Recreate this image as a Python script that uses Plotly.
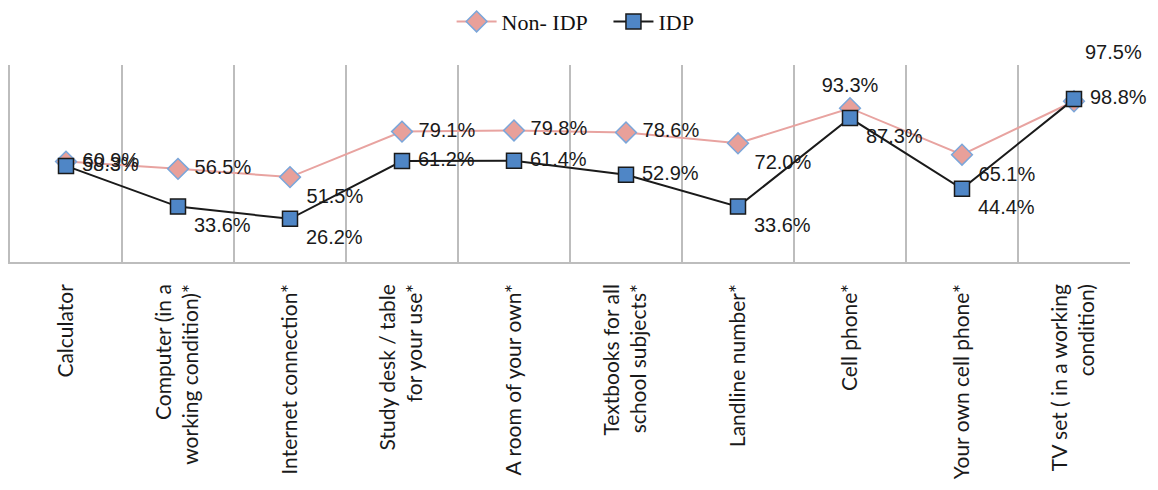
import plotly.graph_objects as go

# categories (x axis) and shares in percent
items = [
    "Calculator",
    "Computer (in a<br>working condition)*",
    "Internet connection*",
    "Study desk / table<br>for your use*",
    "A room of your own*",
    "Textbooks for all<br>school subjects*",
    "Landline number*",
    "Cell phone*",
    "Your own cell phone*",
    "TV set ( in a working<br>condition)",
]
non_idp = [60.9, 56.5, 51.5, 79.1, 79.8, 78.6, 72.0, 93.3, 65.1, 97.5]
idp = [58.3, 33.6, 26.2, 61.2, 61.4, 52.9, 33.6, 87.3, 44.4, 98.8]

non_idp_pos = ["middle right", "middle right", "bottom right", "middle right", "middle right",
               "middle right", "bottom right", "top center", "bottom right", "top right"]
idp_pos = ["middle right", "bottom right", "bottom right", "middle right", "middle right",
           "middle right", "bottom right", "bottom right", "bottom right", "middle right"]

label_font = dict(family="Liberation Sans, Arial", size=20, color="#1a1a1a")


def pct(v, pos):
    s = f"{v:.1f}%"
    if pos == "top right":
        # lifted clear of the other series' label
        return s + "<br> "
    # a little extra gap for labels sitting right of the marker
    return " " + s if pos.endswith("right") else s


fig = go.Figure()
fig.add_trace(go.Scatter(
    x=items, y=non_idp, name="Non- IDP   ",
    mode="lines+markers+text",
    line=dict(color="#E8A3A0", width=2),
    marker=dict(symbol="diamond", size=16, color="#E8A09A",
                line=dict(color="#7AA6DA", width=1.5)),
    text=[pct(v, p) for v, p in zip(non_idp, non_idp_pos)],
    textposition=non_idp_pos,
    textfont=label_font,
    cliponaxis=False,
))
fig.add_trace(go.Scatter(
    x=items, y=idp, name="IDP",
    mode="lines+markers+text",
    line=dict(color="#1a1a1a", width=2),
    marker=dict(symbol="square", size=15, color="#4F86C6",
                line=dict(color="#1a1a1a", width=1.5)),
    text=[pct(v, p) for v, p in zip(idp, idp_pos)],
    textposition=idp_pos,
    textfont=label_font,
    cliponaxis=False,
))

# page body adds 8px margin, so the figure is sized/offset to compensate
fig.update_layout(
    width=1150, height=482,
    paper_bgcolor="white", plot_bgcolor="white",
    margin=dict(l=2, r=28, t=57, b=228, autoexpand=False),
    showlegend=True,
    legend=dict(orientation="h", x=0.505, xanchor="center", y=1.22, yanchor="middle",
                font=dict(family="Liberation Serif, Times New Roman", size=22, color="#111"),
                itemwidth=40),
)
fig.update_xaxes(
    type="category", range=[-0.5, 9.5],
    tickson="boundaries",
    showgrid=True, gridcolor="#BDBDBD", gridwidth=1.5,
    showline=True, linecolor="#BDBDBD", linewidth=1.5,
    ticks="", tickangle=-90, automargin=False, ticklabelstandoff=12,
    tickfont=dict(family="Lato, Calibri", size=21, color="#1a1a1a"),
)
fig.update_yaxes(
    range=[0, 119.5], showgrid=False, zeroline=False,
    showticklabels=False, ticks="",
    showline=True, linecolor="#BDBDBD", linewidth=1.5,
)

fig.write_html("out.html")
